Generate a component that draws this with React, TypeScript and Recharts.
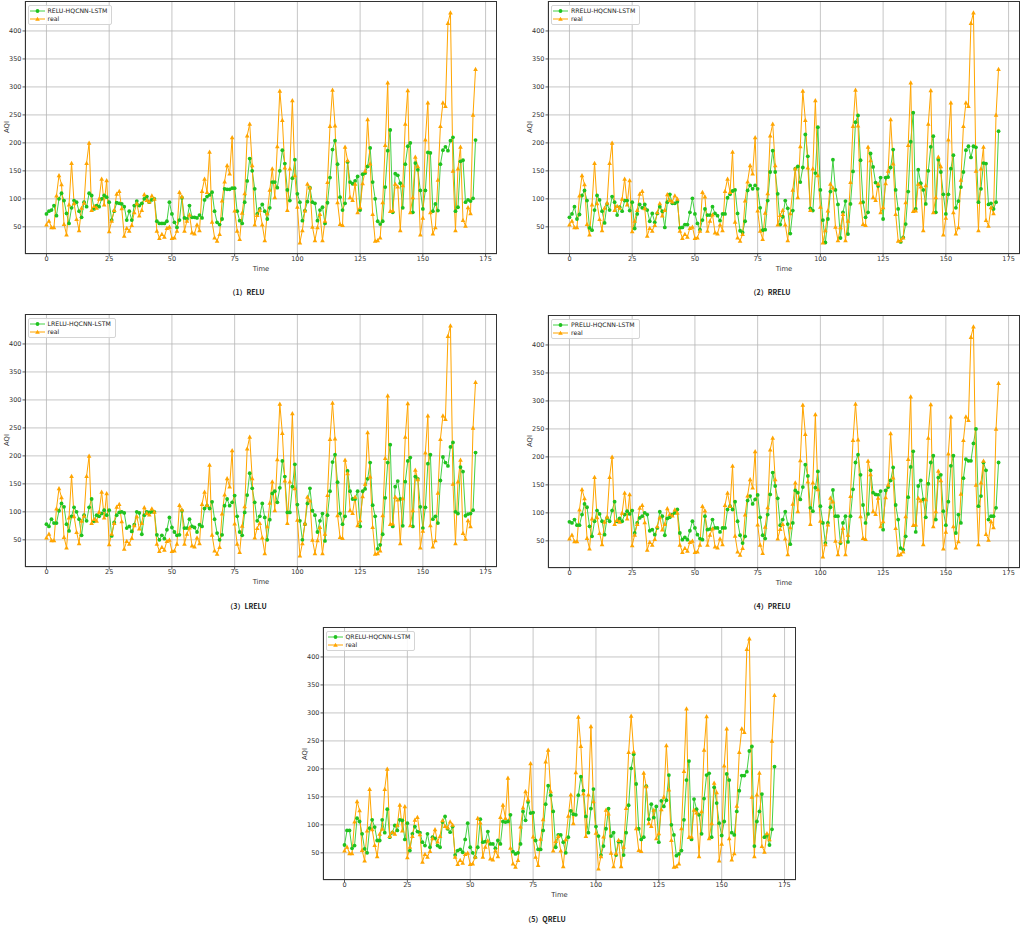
import React from "react"
import { LineChart, Line, XAxis, YAxis, CartesianGrid } from "recharts"

// time steps 0..171
const time = Array.from({ length: 172 }, (_, i) => i)

const xTicks = [0, 25, 50, 75, 100, 125, 150, 175]
const yTicks = [50, 100, 150, 200, 250, 300, 350, 400]

const real = [
	54, 61, 49, 49, 106, 142, 126, 55, 36, 90, 164, 92, 64, 44, 84, 93, 164, 200, 80, 87,
	84, 100, 136, 90, 133, 42, 61, 80, 109, 114, 83, 34, 48, 43, 53, 76, 92, 70, 80, 108,
	98, 95, 106, 100, 43, 30, 37, 32, 48, 50, 30, 31, 43, 112, 104, 43, 61, 72, 40, 38,
	54, 44, 114, 136, 112, 184, 59, 31, 25, 37, 97, 131, 160, 145, 210, 79, 43, 28, 75, 110,
	213, 234, 160, 54, 71, 80, 54, 26, 74, 116, 154, 103, 194, 293, 241, 156, 80, 154, 276, 142,
	86, 22, 44, 79, 127, 120, 50, 26, 49, 73, 26, 61, 130, 230, 295, 231, 94, 55, 53, 193,
	169, 103, 98, 127, 76, 85, 128, 150, 242, 163, 73, 25, 26, 31, 94, 196, 308, 78, 79, 127,
	122, 44, 124, 234, 294, 76, 103, 175, 158, 36, 66, 206, 272, 76, 38, 49, 134, 230, 272, 266,
	414, 433, 150, 44, 154, 193, 62, 52, 85, 74, 250, 332,
]

const relu = [
	73, 78, 80, 88, 70, 100, 110, 97, 74, 56, 84, 97, 94, 78, 67, 94, 86, 110, 106, 82,
	88, 86, 100, 106, 103, 94, 62, 78, 93, 92, 91, 86, 62, 78, 62, 88, 96, 88, 92, 100,
	104, 94, 98, 100, 60, 56, 56, 56, 60, 94, 73, 58, 49, 62, 102, 66, 64, 88, 67, 67,
	66, 71, 66, 98, 104, 107, 112, 78, 58, 54, 64, 118, 117, 117, 119, 119, 78, 61, 56, 94,
	132, 172, 150, 118, 73, 82, 90, 78, 64, 84, 130, 130, 120, 150, 187, 163, 116, 97, 137, 170,
	109, 94, 61, 79, 95, 120, 94, 92, 61, 80, 85, 56, 93, 138, 188, 204, 162, 103, 80, 92,
	166, 130, 127, 132, 140, 80, 144, 146, 158, 191, 130, 100, 60, 55, 60, 121, 186, 223, 76, 145,
	142, 128, 84, 162, 194, 200, 76, 164, 152, 115, 82, 115, 183, 182, 78, 91, 79, 162, 187, 193,
	186, 204, 210, 78, 85, 167, 169, 94, 98, 96, 101, 205,
]

const rrelu = [
	67, 73, 86, 64, 72, 106, 115, 97, 48, 44, 80, 106, 98, 78, 57, 91, 80, 104, 94, 71,
	85, 78, 97, 97, 79, 94, 47, 73, 90, 84, 90, 80, 60, 74, 58, 74, 86, 78, 49, 94,
	108, 92, 92, 95, 48, 49, 54, 54, 76, 101, 73, 56, 45, 62, 82, 71, 71, 86, 74, 70,
	61, 73, 73, 102, 108, 114, 116, 74, 43, 40, 60, 115, 124, 118, 124, 118, 84, 44, 45, 97,
	148, 186, 148, 109, 54, 68, 97, 83, 38, 79, 154, 158, 130, 156, 215, 176, 83, 79, 146, 228,
	116, 62, 22, 64, 113, 170, 116, 90, 30, 76, 96, 37, 91, 149, 237, 249, 169, 94, 67, 76,
	181, 157, 129, 123, 138, 64, 138, 139, 156, 188, 116, 82, 23, 31, 55, 113, 202, 254, 82, 152,
	128, 116, 91, 150, 193, 212, 76, 170, 148, 108, 73, 108, 154, 178, 84, 96, 121, 148, 187, 194,
	174, 194, 192, 94, 118, 164, 163, 90, 92, 82, 94, 221,
]

const lrelu = [
	78, 74, 87, 80, 80, 102, 115, 109, 78, 66, 92, 108, 100, 87, 58, 94, 84, 108, 123, 83,
	94, 92, 97, 103, 94, 103, 57, 81, 94, 99, 100, 98, 71, 74, 65, 77, 100, 98, 60, 94,
	100, 99, 100, 100, 59, 50, 58, 52, 68, 90, 72, 64, 58, 59, 102, 71, 71, 87, 74, 72,
	64, 77, 74, 106, 111, 106, 118, 87, 62, 50, 59, 111, 123, 111, 117, 129, 92, 64, 58, 99,
	130, 169, 142, 117, 84, 92, 115, 90, 50, 86, 133, 137, 117, 143, 191, 163, 99, 99, 145, 185,
	113, 84, 50, 78, 115, 142, 102, 94, 64, 84, 97, 48, 94, 137, 189, 202, 153, 97, 78, 92,
	173, 137, 123, 123, 137, 74, 137, 141, 159, 188, 112, 92, 34, 41, 60, 125, 188, 220, 74, 145,
	155, 123, 75, 154, 191, 197, 74, 163, 159, 109, 71, 108, 186, 202, 87, 92, 80, 156, 198, 188,
	182, 216, 224, 100, 97, 180, 172, 93, 96, 97, 103, 206,
]

const prelu = [
	84, 82, 88, 78, 78, 97, 116, 110, 76, 58, 85, 104, 98, 85, 61, 91, 85, 104, 120, 85,
	90, 85, 97, 103, 98, 104, 64, 82, 91, 94, 100, 97, 68, 70, 61, 73, 102, 94, 60, 90,
	92, 97, 100, 106, 64, 52, 56, 52, 68, 85, 73, 61, 54, 52, 94, 70, 71, 88, 73, 73,
	66, 73, 73, 106, 112, 106, 120, 85, 60, 46, 58, 122, 130, 116, 124, 132, 92, 60, 54, 97,
	133, 172, 148, 126, 78, 88, 102, 80, 44, 82, 140, 136, 124, 146, 186, 166, 109, 103, 145, 174,
	112, 82, 46, 82, 110, 141, 94, 94, 46, 82, 94, 48, 94, 142, 190, 204, 168, 114, 82, 98,
	176, 136, 133, 132, 139, 70, 140, 146, 158, 181, 114, 88, 37, 34, 58, 128, 182, 210, 66, 148,
	158, 124, 92, 152, 190, 202, 88, 163, 168, 103, 78, 120, 184, 202, 64, 97, 82, 162, 196, 193,
	193, 224, 250, 112, 130, 190, 176, 88, 94, 94, 109, 190,
]

const qrelu = [
	64, 90, 90, 58, 63, 112, 106, 84, 57, 50, 94, 109, 96, 72, 72, 109, 86, 128, 78, 86,
	99, 90, 109, 108, 74, 103, 54, 84, 97, 88, 86, 69, 63, 84, 60, 78, 76, 63, 60, 105,
	115, 93, 87, 97, 46, 54, 56, 51, 74, 103, 60, 50, 42, 60, 110, 69, 70, 88, 66, 66,
	58, 72, 66, 106, 105, 106, 118, 52, 48, 50, 66, 124, 108, 141, 121, 122, 72, 56, 56, 90,
	137, 170, 153, 124, 60, 82, 82, 69, 50, 78, 125, 119, 118, 153, 186, 161, 115, 86, 129, 164,
	97, 80, 46, 62, 93, 129, 80, 86, 46, 70, 70, 46, 86, 135, 201, 226, 173, 93, 74, 78,
	169, 110, 137, 113, 133, 69, 143, 133, 144, 189, 100, 82, 45, 48, 54, 109, 180, 214, 74, 146,
	128, 118, 84, 147, 189, 192, 78, 167, 139, 103, 81, 106, 191, 180, 86, 82, 124, 161, 188, 188,
	195, 232, 240, 62, 106, 124, 155, 78, 82, 64, 92, 204,
]

const xDomain = [-8.55, 179.55]
const yDomain = [1.45, 453.55]

const GREEN_LINE = "#45d145"
const GREEN_DOT = "#1fc21f"
const ORANGE = "#ffa500"
const FONT = "DejaVu Sans, sans-serif"

const Y_AXIS_W = 24
const X_AXIS_H = 17
const PAD_BOTTOM = 6

function Triangle(props: any) {
	const { cx, cy, index } = props
	if (cx == null || cy == null) return <g key={`tri-${index}`} />
	const s = 2.3
	return (
		<path
			key={`tri-${index}`}
			d={`M${cx},${cy - s} L${cx + s},${cy + s * 0.85} L${cx - s},${cy + s * 0.85} Z`}
			fill={ORANGE}
		/>
	)
}

function LegendBox({ name }: { name: string }) {
	return (
		<div
			style={{
				position: "absolute",
				left: 2,
				top: 3,
				border: "0.7px solid #d4d4d4",
				borderRadius: 2,
				background: "rgba(255,255,255,0.85)",
				padding: "1px 4px 1px 1px",
				fontFamily: FONT,
				fontSize: 6.2,
				lineHeight: "8px",
				color: "#222",
			}}
		>
			<div style={{ display: "flex", alignItems: "center" }}>
				<svg width={15} height={8}>
					<line x1={0} y1={4} x2={15} y2={4} stroke={GREEN_LINE} strokeWidth={1} />
					<circle cx={7.5} cy={4} r={1.9} fill={GREEN_DOT} />
				</svg>
				<span style={{ marginLeft: 3 }}>{name}</span>
			</div>
			<div style={{ display: "flex", alignItems: "center" }}>
				<svg width={15} height={8}>
					<line x1={0} y1={4} x2={15} y2={4} stroke={ORANGE} strokeWidth={1} />
					<path d="M7.5,1.8 L9.8,5.8 L5.2,5.8 Z" fill={ORANGE} />
				</svg>
				<span style={{ marginLeft: 3 }}>real</span>
			</div>
		</div>
	)
}

type PanelProps = {
	left: number
	top: number
	width: number
	height: number
	pred: number[]
	name: string
	caption: string
	captionTop: number
}

function Panel({ left, top, width, height, pred, name, caption, captionTop }: PanelProps) {
	const data = time.map((t, i) => ({ t, pred: pred[i], real: real[i] }))
	const tickStyle = { fontSize: 6.5, fill: "#333", fontFamily: FONT }
	return (
		<>
			<div style={{ position: "absolute", left: left - Y_AXIS_W, top }}>
				<LineChart
					width={width + Y_AXIS_W}
					height={height + X_AXIS_H + PAD_BOTTOM}
					data={data}
					margin={{ top: 0, right: 0, left: 0, bottom: PAD_BOTTOM }}
				>
					<CartesianGrid stroke="#b8b8b8" strokeWidth={0.8} fill="none" />
					<XAxis
						dataKey="t"
						type="number"
						domain={xDomain}
						ticks={xTicks}
						height={X_AXIS_H}
						axisLine={false}
						tickSize={2.5}
						tickMargin={0}
						tickLine={{ stroke: "#333", strokeWidth: 0.8 }}
						tick={tickStyle}
						label={{ value: "Time", position: "insideBottom", offset: 0, style: { fontSize: 6.8, fill: "#333", fontFamily: FONT } }}
					/>
					<YAxis
						type="number"
						domain={yDomain}
						ticks={yTicks}
						width={Y_AXIS_W}
						axisLine={false}
						tickSize={2.5}
						tickMargin={1}
						tickLine={{ stroke: "#333", strokeWidth: 0.8 }}
						tick={tickStyle}
					/>
					<Line
						dataKey="pred"
						name={name}
						stroke={GREEN_LINE}
						strokeWidth={1}
						dot={{ r: 1.9, fill: GREEN_DOT, stroke: GREEN_DOT, strokeWidth: 0 }}
						isAnimationActive={false}
					/>
					<Line
						dataKey="real"
						name="real"
						stroke={ORANGE}
						strokeWidth={1}
						dot={Triangle}
						isAnimationActive={false}
					/>
				</LineChart>
			</div>
			<div
				style={{
					position: "absolute",
					left,
					top,
					width,
					height,
					boxSizing: "border-box",
					border: "0.8px solid #333",
					pointerEvents: "none",
				}}
			>
				<LegendBox name={name} />
			</div>
			<div
				style={{
					position: "absolute",
					left: left - 18,
					top: top + height / 2,
					transform: "translate(-50%, -50%) rotate(-90deg)",
					fontFamily: FONT,
					fontSize: 6.8,
					color: "#333",
				}}
			>
				AQI
			</div>
			<div
				style={{
					position: "absolute",
					left: left + width / 2 - 14,
					top: captionTop,
					transform: "translate(-50%, -50%)",
					fontFamily: "Noto Sans CJK SC, sans-serif",
					fontWeight: 700,
					fontSize: 7,
					color: "#222",
					whiteSpace: "nowrap",
				}}
			>
				{caption}
			</div>
		</>
	)
}

export default function App() {
	return (
		<div style={{ position: "absolute", left: 0, top: 0, width: 1024, height: 928, background: "#fff", overflow: "hidden" }}>
			<Panel left={24.5} top={0.5} width={472} height={253} pred={relu} name="RELU-HQCNN-LSTM" caption="（1）RELU" captionTop={292} />
			<Panel left={548} top={0.5} width={472} height={253} pred={rrelu} name="RRELU-HQCNN-LSTM" caption="（2）RRELU" captionTop={292} />
			<Panel left={24.5} top={313.5} width={472} height={253} pred={lrelu} name="LRELU-HQCNN-LSTM" caption="（3）LRELU" captionTop={606} />
			<Panel left={548} top={314.5} width={472} height={253} pred={prelu} name="PRELU-HQCNN-LSTM" caption="（4）PRELU" captionTop={606} />
			<Panel left={322.5} top={627} width={473} height={253} pred={qrelu} name="QRELU-HQCNN-LSTM" caption="（5）QRELU" captionTop={919} />
		</div>
	)
}
